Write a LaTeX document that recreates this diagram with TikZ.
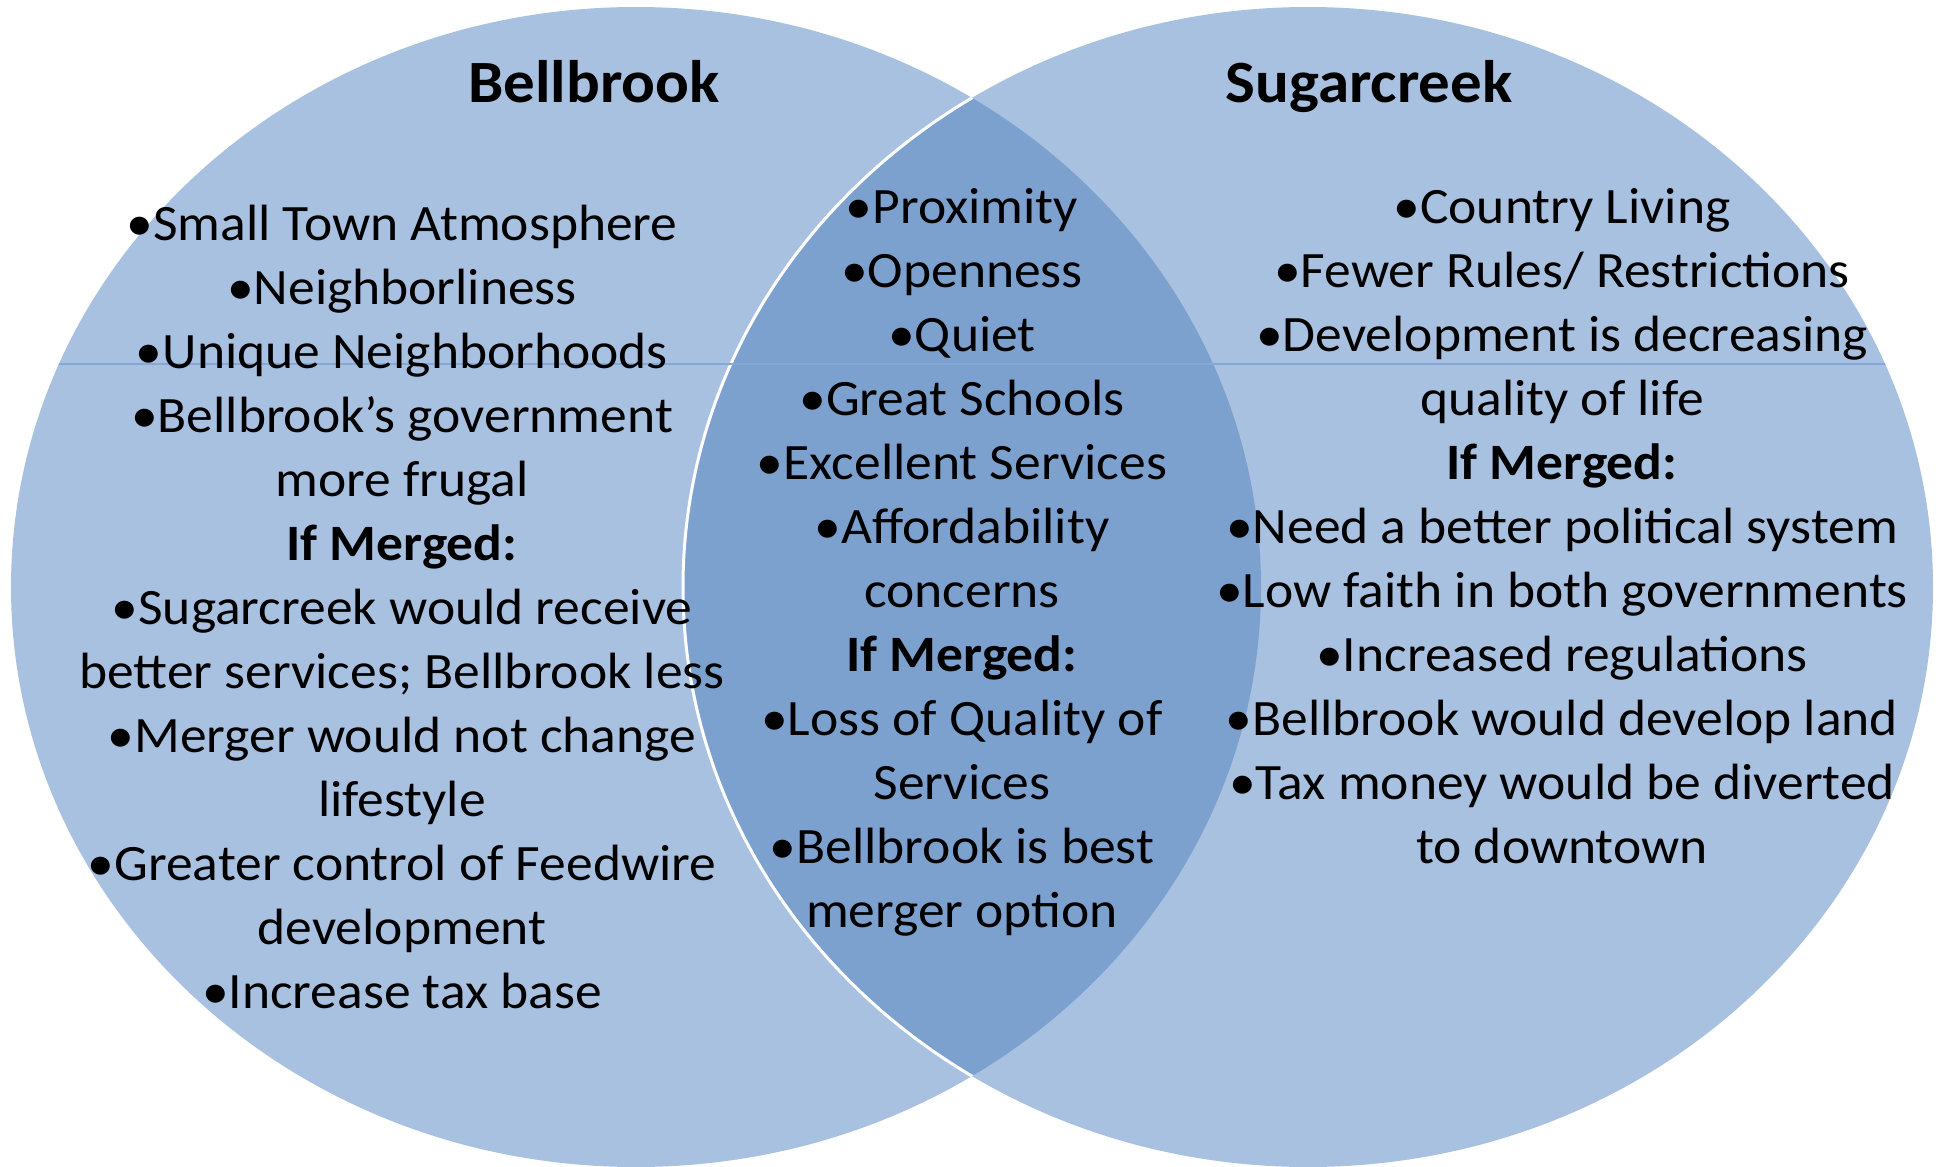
\documentclass[tikz,border=0pt]{standalone}
\usepackage{fontspec}
\setmainfont{Carlito}[FakeStretch=1.05]
\definecolor{lightb}{HTML}{A9C1E0}
\definecolor{darkb}{HTML}{7CA1CE}
\definecolor{lineb}{HTML}{86A8D8}
\begin{document}
\begin{tikzpicture}[x=1pt,y=-1pt,
  item/.style={anchor=base,inner sep=0pt,font=\fontsize{51}{61}\selectfont},
  ttl/.style={anchor=base,inner sep=0pt,font=\fontsize{60}{70}\selectfont\bfseries},
  ell/.style={x radius=625pt,y radius=580pt}]
\useasboundingbox (0,0) rectangle (1939,1167);
\fill[white] (0,0) rectangle (1939,1167);
\coordinate (cl) at (636,587);
\coordinate (cr) at (1308,587);
\fill[lightb] (cl) ellipse [ell];
\fill[lightb] (cr) ellipse [ell];
\begin{scope}
  \clip (cl) ellipse [ell];
  \fill[darkb] (cr) ellipse [ell];
  \draw[white,line width=3pt] (cr) ellipse [ell];
  \draw[lineb,line width=1.2pt] (0,364) -- (1939,364);
\end{scope}
\begin{scope}
  \clip (cr) ellipse [ell];
  \draw[lineb,line width=1.2pt] (0,364) -- (1939,364);
\end{scope}
\node[ttl] (tb) at (594,102) {Bellbrook};
\node[ttl] (ts) at (1369,102) {Sugarcreek};
\foreach [count=\i from 0] \t in {{•Small Town Atmosphere},{•Neighborliness},{•Unique Neighborhoods},{•Bellbrook’s government},{more frugal},{\textbf{If Merged:}},{•Sugarcreek would receive},{better services; Bellbrook less},{•Merger would not change},{lifestyle},{•Greater control of Feedwire},{development},{•Increase tax base}}
  \node[item] (L\i) at (402,{240+\i*64}) {\t};
\foreach [count=\i from 0] \t in {{•Proximity},{•Openness},{•Quiet},{•Great Schools},{•Excellent Services},{•Affordability},{concerns},{\textbf{If Merged:}},{•Loss of Quality of},{Services},{•Bellbrook is best},{merger option}}
  \node[item] (C\i) at (962,{223+\i*64}) {\t};
\foreach [count=\i from 0] \t in {{•Country Living},{•Fewer Rules/ Restrictions},{•Development is decreasing},{quality of life},{\textbf{If Merged:}},{•Need a better political system},{•Low faith in both governments},{•Increased regulations},{•Bellbrook would develop land},{•Tax money would be diverted},{to downtown}}
  \node[item] (R\i) at (1562,{223+\i*64}) {\t};
\end{tikzpicture}
\end{document}
